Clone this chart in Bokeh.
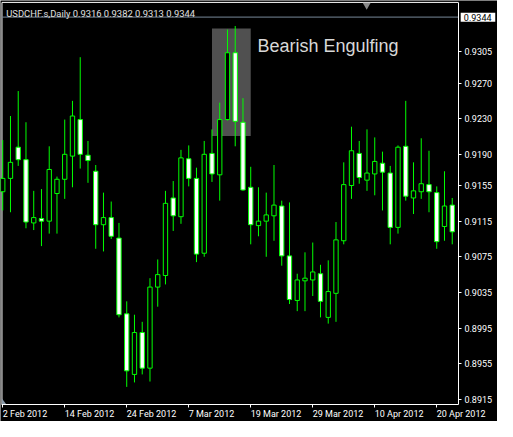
from bokeh.plotting import figure
from bokeh.models import (Range1d, FixedTicker, NumeralTickFormatter, Label,
                          ColumnDataSource, LinearAxis)
from bokeh.embed import file_html
from bokeh.resources import INLINE

# ---- data (USDCHF.s, Daily, 2 Feb 2012 .. 24 Apr 2012) ----
opens = [0.9148, 0.9163, 0.9198, 0.9184, 0.9113, 0.9118, 0.9115, 0.9146, 0.9162, 0.9188,
         0.9229, 0.9189, 0.9171, 0.9111, 0.9119, 0.9096, 0.9011, 0.8943, 0.8990, 0.8950,
         0.9041, 0.9054, 0.9141, 0.9120, 0.9185, 0.9163, 0.9079, 0.9191, 0.9167, 0.9229,
         0.9304, 0.9226, 0.9153, 0.9110, 0.9115, 0.9121, 0.9132, 0.9076, 0.9026, 0.9048,
         0.9049, 0.9056, 0.9007, 0.9034, 0.9093, 0.9155, 0.9191, 0.9161, 0.9168, 0.9180,
         0.9169, 0.9108, 0.9199, 0.9141, 0.9148, 0.9156, 0.9147, 0.9109, 0.9133]
highs = [0.9206, 0.9233, 0.9261, 0.9226, 0.9149, 0.9151, 0.9199, 0.9165, 0.9229, 0.9250,
         0.9299, 0.9205, 0.9178, 0.9147, 0.9137, 0.9113, 0.9025, 0.9010, 0.9002, 0.9051,
         0.9072, 0.9149, 0.9160, 0.9195, 0.9200, 0.9175, 0.9205, 0.9218, 0.9248, 0.9330,
         0.9334, 0.9253, 0.9176, 0.9153, 0.9147, 0.9178, 0.9138, 0.9136, 0.9056, 0.9080,
         0.9091, 0.9066, 0.9071, 0.9114, 0.9181, 0.9221, 0.9205, 0.9218, 0.9209, 0.9193,
         0.9177, 0.9200, 0.9250, 0.9181, 0.9208, 0.9194, 0.9154, 0.9171, 0.9141]
lows = [0.9127, 0.9125, 0.9177, 0.9107, 0.9105, 0.9087, 0.9101, 0.9101, 0.9140, 0.9153,
        0.9174, 0.9158, 0.9084, 0.9081, 0.9095, 0.9007, 0.8929, 0.8934, 0.8943, 0.8935,
        0.9019, 0.9044, 0.9104, 0.9112, 0.9154, 0.9069, 0.9075, 0.9159, 0.9138, 0.9228,
        0.9199, 0.9149, 0.9089, 0.9098, 0.9075, 0.9093, 0.9065, 0.9022, 0.9014, 0.9014,
        0.9031, 0.9007, 0.9000, 0.9002, 0.9089, 0.9140, 0.9157, 0.9149, 0.9144, 0.9127,
        0.9089, 0.9101, 0.9138, 0.9123, 0.9140, 0.9125, 0.9084, 0.9093, 0.9089]
closes = [0.9163, 0.9181, 0.9184, 0.9114, 0.9119, 0.9115, 0.9173, 0.9162, 0.9190, 0.9233,
          0.9190, 0.9183, 0.9111, 0.9119, 0.9098, 0.9010, 0.8947, 0.8990, 0.8950, 0.9041,
          0.9055, 0.9135, 0.9121, 0.9186, 0.9163, 0.9078, 0.9190, 0.9168, 0.9229, 0.9304,
          0.9227, 0.9150, 0.9111, 0.9115, 0.9122, 0.9133, 0.9076, 0.9027, 0.9049, 0.9051,
          0.9058, 0.9025, 0.9036, 0.9094, 0.9156, 0.9194, 0.9164, 0.9169, 0.9182, 0.9170,
          0.9108, 0.9198, 0.9143, 0.9149, 0.9157, 0.9148, 0.9092, 0.9132, 0.9103]

x_tick_index = [0, 8, 16, 24, 32, 40, 48, 56]
x_tick_labels = ["2 Feb 2012", "14 Feb 2012", "24 Feb 2012", "7 Mar 2012",
                 "19 Mar 2012", "29 Mar 2012", "10 Apr 2012", "20 Apr 2012"]
y_ticks = [0.8915, 0.8955, 0.8995, 0.9035, 0.9075, 0.9115, 0.9155, 0.9190, 0.9230, 0.9270, 0.9305]

title_text = "USDCHF.s,Daily  0.9316 0.9382 0.9313 0.9344"
bid_price = 0.9344
bid_text = "0.9344"
pattern_text = "Bearish Engulfing"
pattern_left, pattern_right = 27, 32
pattern_top, pattern_bottom = 0.93313, 0.92105

# ---- layout / styling ----
W, H = 497, 421
X0, X1 = -0.2875, 63.84          # whole canvas is the frame
Y0, Y1 = 0.889015, 0.936263
CHART_L, CHART_R = -0.1, 58.8     # chart box (left border / price axis)
CHART_B, CHART_T = 0.89096, 0.93605
GREEN = "#00ff00"
FONT = "Roboto"
FS = 9  # px
PX_PER_UNIT = W / (X1 - X0)

# approximate Roboto advance widths (em) to left-align date labels on their ticks
_EM = {"0": .562, "1": .562, "2": .562, "3": .562, "4": .562, "5": .562, "6": .562,
       "7": .562, "8": .562, "9": .562, " ": .248, "F": .553, "e": .530, "b": .561,
       "M": .873, "a": .543, "r": .338, "A": .652, "p": .561}


def half_width_units(s):
    return sum(_EM.get(ch, .55) for ch in s) * FS / 2 / PX_PER_UNIT


idx = list(range(len(opens)))
bull = [c > o for o, c in zip(opens, closes)]
src = ColumnDataSource(dict(
    x=idx, o=opens, h=highs, l=lows, c=closes,
    top=[max(o, c) for o, c in zip(opens, closes)],
    bot=[min(o, c) for o, c in zip(opens, closes)],
    fill=["black" if b else "white" for b in bull],
))

p = figure(width=W, height=H, x_range=Range1d(X0, X1), y_range=Range1d(Y0, Y1),
           y_axis_location="right", output_backend="svg", toolbar_location=None,
           background_fill_color="black", border_fill_color="black",
           outline_line_color=None, min_border=0)
p.grid.visible = False

# pattern box
p.quad(left=[pattern_left], right=[pattern_right], top=[pattern_top], bottom=[pattern_bottom],
       fill_color="#505050", line_color=None)

# chart border (top, left) and bid line
p.segment(x0=[CHART_L, CHART_L], y0=[CHART_T, CHART_B], x1=[CHART_R, CHART_L], y1=[CHART_T, CHART_T],
          line_color="white", line_width=1)
p.segment(x0=[CHART_L], y0=[bid_price], x1=[CHART_R], y1=[bid_price],
          line_color="#778899", line_width=1)

# candles
p.segment(x0="x", y0="l", x1="x", y1="h", source=src, line_color=GREEN, line_width=1)
p.vbar(x="x", top="top", bottom="bot", width=0.56, source=src,
       fill_color="fill", line_color=GREEN, line_width=1)

# shift markers
p.scatter(x=[46.96], y=[0.93575], marker="inverted_triangle", size=8,
          fill_color="#8a8a8a", line_color=None)
p.patch(x=[CHART_L, CHART_L, 0.45], y=[0.89161, CHART_B, CHART_B],
        fill_color="#8a9aa8", line_color=None)

# bid price tag
p.quad(left=[59.09], right=[63.55], top=[0.93489], bottom=[0.93388],
       fill_color="white", line_color=None)
p.add_layout(Label(x=59.5, y=bid_price, text=bid_text, text_color="black",
                   text_font=FONT, text_font_size=f"{FS}px", text_baseline="middle"))


def style(ax):
    ax.axis_line_color = "white"
    ax.major_tick_line_color = "white"
    ax.minor_tick_line_color = None
    ax.major_tick_in = 0
    ax.major_tick_out = 3
    ax.major_label_text_color = "white"
    ax.major_label_text_font = FONT
    ax.major_label_text_font_size = f"{FS}px"


# price axis (right side of the chart box)
yax = p.yaxis[0]
style(yax)
yax.fixed_location = CHART_R
yax.bounds = (CHART_B, CHART_T)
yax.ticker = FixedTicker(ticks=y_ticks)
yax.formatter = NumeralTickFormatter(format="0.0000")
yax.major_label_standoff = 3

# time axis: tick marks
xax = p.xaxis[0]
style(xax)
xax.fixed_location = CHART_B
xax.bounds = (CHART_L, CHART_R)
xax.ticker = FixedTicker(ticks=x_tick_index)
xax.major_label_overrides = {i: "" for i in x_tick_index}

# time axis: labels, left-aligned on each tick
label_pos = [i + half_width_units(s) for i, s in zip(x_tick_index, x_tick_labels)]
xlab = LinearAxis(fixed_location=CHART_B)
style(xlab)
xlab.axis_line_color = None
xlab.major_tick_line_color = None
xlab.ticker = FixedTicker(ticks=label_pos)
xlab.major_label_overrides = dict(zip(label_pos, x_tick_labels))
xlab.major_label_standoff = 2
p.add_layout(xlab, "below")

# texts
p.add_layout(Label(x=0.46, y=0.93475, text=title_text, text_color="#e0e0e0",
                   text_font=FONT, text_font_size="9.4px", text_baseline="alphabetic"))
p.add_layout(Label(x=32.875, y=0.93121, text=pattern_text, text_color="#d8d8d8",
                   text_font="Liberation Sans", text_font_size="18px",
                   text_baseline="alphabetic"))

open("out.html", "w").write(file_html(p, INLINE))
